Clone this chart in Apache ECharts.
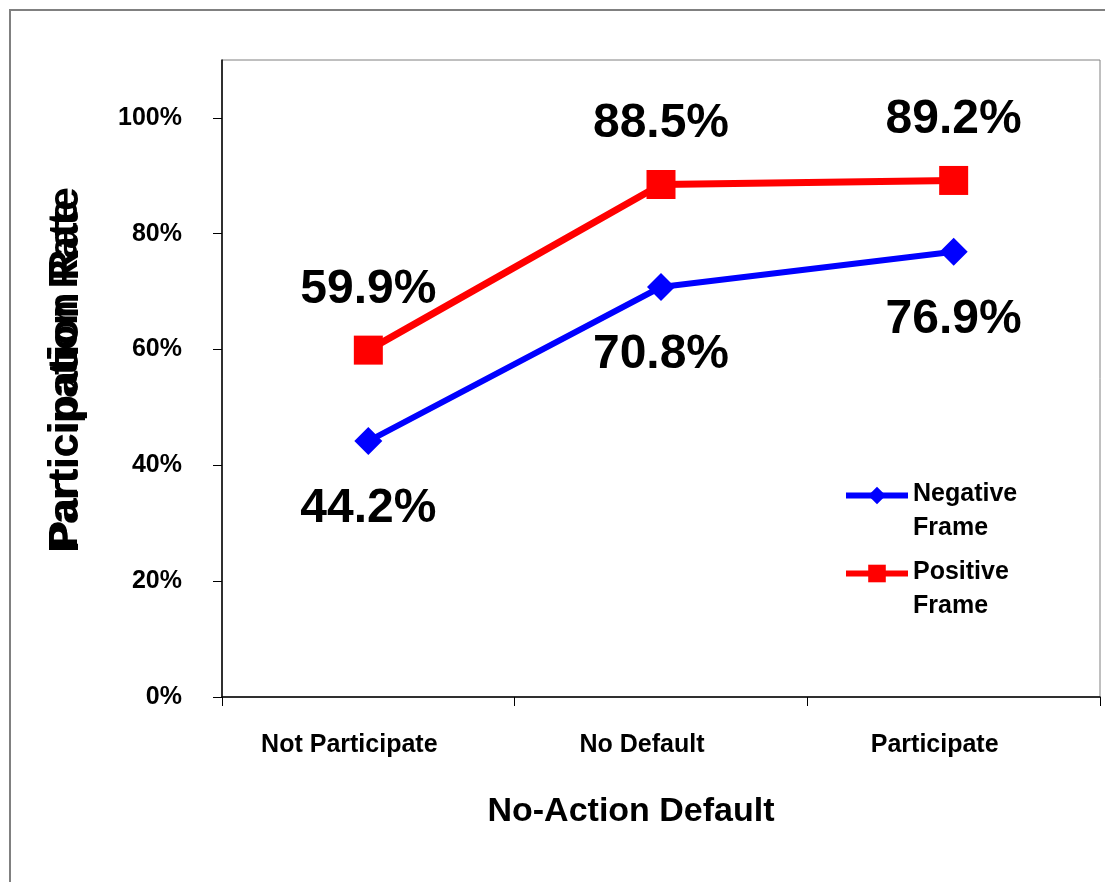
<!DOCTYPE html>
<html>
<head>
<meta charset="utf-8">
<style>
  html, body { margin: 0; padding: 0; background: #fff; }
  #demo { width: 1105px; height: 882px; }
</style>
<script src="https://cdn.jsdelivr.net/npm/echarts@6/dist/echarts.min.js"></script>
</head>
<body>
<div id="demo"></div>
<script>
// 数据区
var categories = ['Not Participate', 'No Default', 'Participate'];
var negativeFrame = [44.2, 70.8, 76.9];
var positiveFrame = [59.9, 88.5, 89.2];
var yTicks = [0, 20, 40, 60, 80, 100];

var FONT = '"Liberation Sans", Arial, sans-serif';

var myChart = echarts.init(document.getElementById('demo'));

var pctLabel = function (p) {
    return p.value.toFixed(1) + '%';
};

// 图例文字：第一行与图标对齐，第二行在下方
var legendText = function (name) {
    var parts = name.split(' ');
    return '{a|' + parts[0] + '}\n{b|' + parts[1] + '}';
};
var legendRich = {
    a: { fontSize: 25, fontWeight: 'bold', color: '#000', fontFamily: FONT, lineHeight: 66 },
    b: { fontSize: 25, fontWeight: 'bold', color: '#000', fontFamily: FONT, lineHeight: 2 }
};

var option = {
    backgroundColor: '#fff',
    animation: false,
    textStyle: { fontFamily: FONT },
    grid: {
        left: 222, top: 60, right: 5, bottom: 185,
        show: true, borderColor: '#808080', borderWidth: 1
    },
    graphic: [
        {
            type: 'rect',
            shape: { x: 10, y: 10, width: 1110, height: 890 },
            style: { fill: 'none', stroke: '#808080', lineWidth: 2 },
            silent: true
        },
        // y轴标题（原图两层文字重叠）
        {
            type: 'text', x: 66, y: 370, rotation: Math.PI / 2,
            style: {
                text: 'Participation Rate', fill: '#000',
                font: 'bold 43px ' + FONT, align: 'center', verticalAlign: 'middle'
            }
        },
        {
            type: 'text', x: 66, y: 374, rotation: Math.PI / 2,
            style: {
                text: 'Participation Rate', fill: '#000',
                font: 'bold 41px ' + FONT, align: 'center', verticalAlign: 'middle'
            }
        }
    ],
    legend: {
        left: 838, top: 477,
        orient: 'vertical',
        itemWidth: 62, itemHeight: 22, itemGap: 19,
        lineStyle: { width: 6 },
        textStyle: { rich: legendRich },
        formatter: legendText,
        data: ['Negative Frame', 'Positive Frame']
    },
    xAxis: {
        type: 'category',
        data: categories,
        boundaryGap: true,
        name: 'No-Action Default',
        nameLocation: 'middle',
        nameGap: 98,
        nameTextStyle: {
            fontSize: 34, fontWeight: 'bold', color: '#000', fontFamily: FONT,
            padding: [0, 60, 0, 0]
        },
        axisLine: { lineStyle: { color: '#000', width: 1.5 } },
        axisTick: { show: true, length: 9, lineStyle: { color: '#000' } },
        axisLabel: {
            margin: 36, fontSize: 25, fontWeight: 'bold', color: '#000', fontFamily: FONT,
            padding: [0, 38, 0, 0]
        }
    },
    yAxis: {
        type: 'value',
        min: 0, max: 110, interval: 20,
        splitLine: { show: false },
        axisLine: { show: true, lineStyle: { color: '#000', width: 1.5 } },
        axisTick: { show: true, length: 9, customValues: yTicks, lineStyle: { color: '#000' } },
        axisLabel: {
            margin: 40, fontSize: 25, fontWeight: 'bold', color: '#000', fontFamily: FONT,
            customValues: yTicks,
            formatter: function (v) { return v + '%'; }
        }
    },
    series: [
        {
            name: 'Negative Frame',
            type: 'line',
            data: negativeFrame,
            color: '#0000ff',
            symbol: 'diamond',
            symbolSize: 28,
            lineStyle: { width: 6, color: '#0000ff' },
            itemStyle: { color: '#0000ff' },
            label: {
                show: true, position: 'bottom', distance: 30,
                fontSize: 48, fontWeight: 'bold', color: '#000', fontFamily: FONT,
                formatter: pctLabel
            }
        },
        {
            name: 'Positive Frame',
            type: 'line',
            data: positiveFrame,
            color: '#ff0000',
            symbol: 'rect',
            symbolSize: 29,
            lineStyle: { width: 7, color: '#ff0000' },
            itemStyle: { color: '#ff0000' },
            label: {
                show: true, position: 'top', distance: 22,
                fontSize: 48, fontWeight: 'bold', color: '#000', fontFamily: FONT,
                formatter: pctLabel
            }
        }
    ]
};

myChart.setOption(option);
window.onresize = function () {
    myChart.resize();
};
</script>
</body>
</html>
